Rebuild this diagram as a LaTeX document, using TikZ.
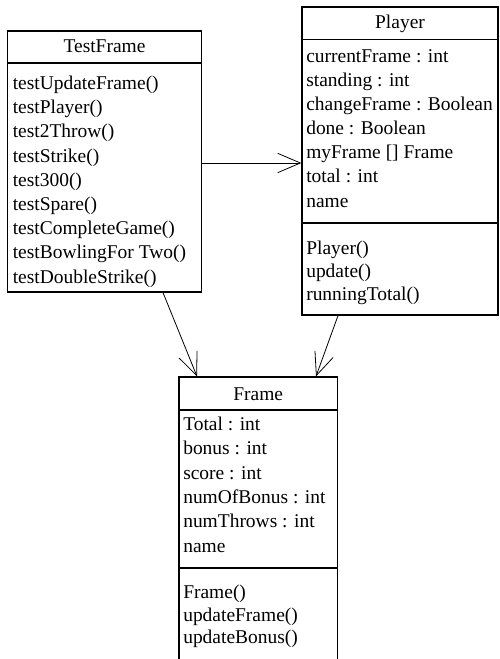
\documentclass[tikz,border=0pt]{standalone}
\usepackage{fontspec}
\setmainfont{Liberation Serif}
\usetikzlibrary{arrows.meta,fit}
\begin{document}
\begin{tikzpicture}[x=0.75pt,y=-0.75pt,
  umlbox/.style={draw=black,line width=0.9pt,inner sep=0pt},
  compline/.style={line width=0.8pt},
  umltext/.style={inner sep=0pt,font=\fontsize{14.6}{18}\selectfont},
  member/.style={umltext,anchor=base west},
  classname/.style={umltext,anchor=base},
  assoc/.style={line width=0.6pt,-{Straight Barb[length=17pt,width=14.5pt]}}]
\useasboundingbox (0,0) rectangle (499,659);
\clip (0,0) rectangle (499,659);

% class boxes
\node[umlbox,fit={(7.5,31) (201.5,292)}] (tf) {};
\node[umlbox,fit={(302,7) (498,315)}] (pl) {};
\node[umlbox,fit={(179,377) (337.5,720)}] (fr) {};

% compartment separators
\draw[compline] (tf.west |- 0,63) -- (tf.east |- 0,63);
\draw[compline] (pl.west |- 0,39.5) -- (pl.east |- 0,39.5);
\draw[compline] (pl.west |- 0,223) -- (pl.east |- 0,223);
\draw[compline] (fr.west |- 0,410) -- (fr.east |- 0,410);
\draw[compline] (fr.west |- 0,568) -- (fr.east |- 0,568);

% TestFrame
\node[classname] (tf-name) at (104.5,52.5) {TestFrame};
\foreach \t [count=\i] in {{testUpdateFrame()},{testPlayer()},{test2Throw()},
  {testStrike()},{test300()},{testSpare()},{testCompleteGame()},
  {testBowlingFor Two()},{testDoubleStrike()}}
  \node[member] (tf-m\i) at (12.5,{89.5+(\i-1)*24.2}) {\t};

% Player
\node[classname] (pl-name) at (400,28.5) {Player};
\foreach \t [count=\i] in {{currentFrame : int},{standing : int},
  {changeFrame : Boolean},{done : Boolean},{myFrame [] Frame},
  {total : int},{name}}
  \node[member] (pl-a\i) at (306,{62.5+(\i-1)*24.1}) {\t};
\foreach \t [count=\i] in {{Player()},{update()},{runningTotal()}}
  \node[member] (pl-m\i) at (306,{254.5+(\i-1)*23}) {\t};

% Frame
\node[classname] (fr-name) at (258.25,400) {Frame};
\foreach \t [count=\i] in {{Total : int},{bonus : int},{score : int},
  {numOfBonus : int},{numThrows : int},{name}}
  \node[member] (fr-a\i) at (183,{430.5+(\i-1)*24.3}) {\t};
\foreach \t [count=\i] in {{Frame()},{updateFrame()},{updateBonus()}}
  \node[member] (fr-m\i) at (183,{598.5+(\i-1)*22.5}) {\t};

% associations
\draw[assoc] (tf.south -| 163,0) -- (fr.north -| 197,0);
\draw[assoc] (pl.south -| 338,0) -- (fr.north -| 316,0);
\draw[assoc] (tf.east |- 0,163) -- (pl.west |- 0,163);
\end{tikzpicture}
\end{document}
